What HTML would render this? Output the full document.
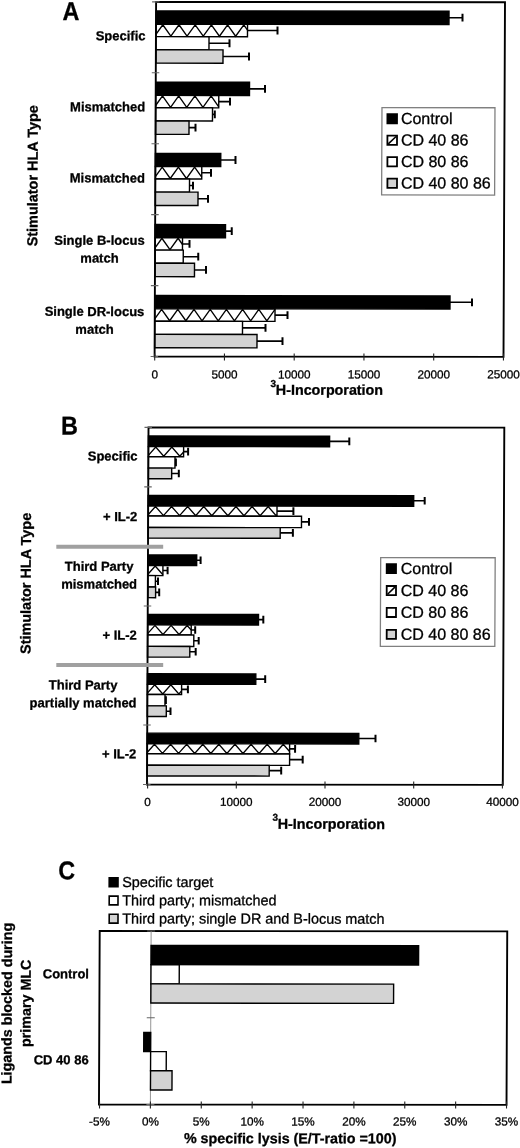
<!DOCTYPE html>
<html><head><meta charset="utf-8"><title>Figure</title>
<style>
html,body{margin:0;padding:0;background:#fff;width:520px;height:1148px;overflow:hidden}
svg{display:block;font-family:"Liberation Sans", sans-serif;filter:grayscale(1)}
text{stroke:#000;stroke-width:0.3px}
</style></head><body>
<svg width="520" height="1148" viewBox="0 0 520 1148">
<g transform="matrix(1 0.0012 -0.0042 1 0 0)" fill="#000">
<rect x="156.1" y="10.74" width="292.97" height="13.2" fill="#000" stroke="#000" stroke-width="1.4"/>
<line x1="449.07" y1="17.16" x2="462.57" y2="17.14" stroke="#000" stroke-width="1.6"/>
<line x1="462.56" y1="13.24" x2="462.59" y2="21.04" stroke="#000" stroke-width="2.0"/>
<rect x="156.1" y="24.06" width="91.53" height="12.4" fill="#fff" stroke="#000" stroke-width="1.4"/>
<polyline fill="none" stroke="#000" stroke-width="1.35" stroke-linejoin="miter" points="156.1,34.13 162.9,24.56 171,35.96 179.1,24.56 187.2,35.96 195.3,24.56 203.4,35.96 211.5,24.56 219.6,35.96 227.7,24.56 235.8,35.96 243.9,24.56 247.63,29.8"/>
<line x1="247.63" y1="30.2" x2="277.63" y2="30.17" stroke="#000" stroke-width="1.6"/>
<line x1="277.61" y1="26.27" x2="277.64" y2="34.07" stroke="#000" stroke-width="2.0"/>
<rect x="156.1" y="36.48" width="53.08" height="13.1" fill="#fff" stroke="#000" stroke-width="1.4"/>
<line x1="209.18" y1="43" x2="229.68" y2="42.97" stroke="#000" stroke-width="1.6"/>
<line x1="229.66" y1="39.07" x2="229.7" y2="46.87" stroke="#000" stroke-width="2.0"/>
<rect x="156.1" y="49.57" width="67.14" height="13.4" fill="#d3d3d3" stroke="#000" stroke-width="1.4"/>
<line x1="223.24" y1="56.23" x2="249.24" y2="56.2" stroke="#000" stroke-width="1.6"/>
<line x1="249.22" y1="52.3" x2="249.25" y2="60.1" stroke="#000" stroke-width="2.0"/>
<rect x="156.1" y="82.01" width="93.77" height="13.2" fill="#000" stroke="#000" stroke-width="1.4"/>
<line x1="249.87" y1="88.55" x2="265.37" y2="88.53" stroke="#000" stroke-width="1.6"/>
<line x1="265.36" y1="84.63" x2="265.39" y2="92.43" stroke="#000" stroke-width="2.0"/>
<rect x="156.1" y="95.22" width="63.08" height="12.4" fill="#fff" stroke="#000" stroke-width="1.4"/>
<polyline fill="none" stroke="#000" stroke-width="1.35" stroke-linejoin="miter" points="156.1,105.3 162.9,95.72 171,107.12 179.1,95.72 187.2,107.12 195.3,95.72 203.4,107.12 211.5,95.72 219.18,106.53"/>
<line x1="219.18" y1="101.39" x2="230.43" y2="101.37" stroke="#000" stroke-width="1.6"/>
<line x1="230.41" y1="97.47" x2="230.44" y2="105.27" stroke="#000" stroke-width="2.0"/>
<rect x="156.1" y="107.63" width="56.88" height="13.1" fill="#fff" stroke="#000" stroke-width="1.4"/>
<line x1="212.98" y1="114.14" x2="215.28" y2="114.14" stroke="#000" stroke-width="1.6"/>
<line x1="215.26" y1="110.24" x2="215.3" y2="118.04" stroke="#000" stroke-width="2.0"/>
<rect x="156.1" y="120.74" width="33.44" height="13.4" fill="#d3d3d3" stroke="#000" stroke-width="1.4"/>
<line x1="189.54" y1="127.42" x2="196.04" y2="127.41" stroke="#000" stroke-width="1.6"/>
<line x1="196.02" y1="123.51" x2="196.05" y2="131.31" stroke="#000" stroke-width="2.0"/>
<rect x="156.1" y="153.17" width="65.32" height="13.2" fill="#000" stroke="#000" stroke-width="1.4"/>
<line x1="221.42" y1="159.73" x2="236.17" y2="159.72" stroke="#000" stroke-width="1.6"/>
<line x1="236.15" y1="155.82" x2="236.19" y2="163.62" stroke="#000" stroke-width="2.0"/>
<rect x="156.1" y="166.38" width="46.38" height="12.4" fill="#fff" stroke="#000" stroke-width="1.4"/>
<polyline fill="none" stroke="#000" stroke-width="1.35" stroke-linejoin="miter" points="156.1,176.46 162.9,166.88 171,178.28 179.1,166.88 187.2,178.28 195.3,166.88 202.47,176.98"/>
<line x1="202.47" y1="172.56" x2="211.72" y2="172.55" stroke="#000" stroke-width="1.6"/>
<line x1="211.71" y1="168.65" x2="211.74" y2="176.45" stroke="#000" stroke-width="2.0"/>
<rect x="156.1" y="178.79" width="34.18" height="13.1" fill="#fff" stroke="#000" stroke-width="1.4"/>
<line x1="190.28" y1="185.32" x2="193.78" y2="185.32" stroke="#000" stroke-width="1.6"/>
<line x1="193.76" y1="181.42" x2="193.79" y2="189.22" stroke="#000" stroke-width="2.0"/>
<rect x="156.1" y="191.89" width="42.73" height="13.4" fill="#d3d3d3" stroke="#000" stroke-width="1.4"/>
<line x1="198.83" y1="198.56" x2="208.83" y2="198.55" stroke="#000" stroke-width="1.6"/>
<line x1="208.82" y1="194.65" x2="208.85" y2="202.45" stroke="#000" stroke-width="2.0"/>
<rect x="156.1" y="224.32" width="70.37" height="13.2" fill="#000" stroke="#000" stroke-width="1.4"/>
<line x1="226.47" y1="230.88" x2="232.72" y2="230.87" stroke="#000" stroke-width="1.6"/>
<line x1="232.7" y1="226.97" x2="232.74" y2="234.77" stroke="#000" stroke-width="2.0"/>
<rect x="156.1" y="237.55" width="27.42" height="12.4" fill="#fff" stroke="#000" stroke-width="1.4"/>
<polyline fill="none" stroke="#000" stroke-width="1.35" stroke-linejoin="miter" points="156.1,247.62 162.9,238.05 171,249.45 179.1,238.05 183.52,244.27"/>
<line x1="183.52" y1="243.73" x2="190.52" y2="243.72" stroke="#000" stroke-width="1.6"/>
<line x1="190.51" y1="239.82" x2="190.54" y2="247.62" stroke="#000" stroke-width="2.0"/>
<rect x="156.1" y="249.95" width="28.23" height="13.1" fill="#fff" stroke="#000" stroke-width="1.4"/>
<line x1="184.33" y1="256.48" x2="199.33" y2="256.46" stroke="#000" stroke-width="1.6"/>
<line x1="199.31" y1="252.56" x2="199.34" y2="260.36" stroke="#000" stroke-width="2.0"/>
<rect x="156.1" y="263.04" width="39.53" height="13.4" fill="#d3d3d3" stroke="#000" stroke-width="1.4"/>
<line x1="195.63" y1="269.72" x2="207.13" y2="269.7" stroke="#000" stroke-width="1.6"/>
<line x1="207.12" y1="265.8" x2="207.15" y2="273.6" stroke="#000" stroke-width="2.0"/>
<rect x="156.1" y="295.34" width="295.17" height="13.2" fill="#000" stroke="#000" stroke-width="1.4"/>
<line x1="451.27" y1="301.76" x2="473.27" y2="301.73" stroke="#000" stroke-width="1.6"/>
<line x1="473.25" y1="297.83" x2="473.28" y2="305.63" stroke="#000" stroke-width="2.0"/>
<rect x="156.1" y="308.64" width="120.22" height="12.4" fill="#fff" stroke="#000" stroke-width="1.4"/>
<polyline fill="none" stroke="#000" stroke-width="1.35" stroke-linejoin="miter" points="156.1,318.71 162.9,309.14 171,320.54 179.1,309.14 187.2,320.54 195.3,309.14 203.4,320.54 211.5,309.14 219.6,320.54 227.7,309.14 235.8,320.54 243.9,309.14 252,320.54 260.1,309.14 268.2,320.54 276.3,309.14 276.32,309.17"/>
<line x1="276.32" y1="314.77" x2="288.82" y2="314.75" stroke="#000" stroke-width="1.6"/>
<line x1="288.81" y1="310.85" x2="288.84" y2="318.65" stroke="#000" stroke-width="2.0"/>
<rect x="156.1" y="321.06" width="87.78" height="13.1" fill="#fff" stroke="#000" stroke-width="1.4"/>
<line x1="243.88" y1="327.56" x2="266.88" y2="327.53" stroke="#000" stroke-width="1.6"/>
<line x1="266.86" y1="323.63" x2="266.89" y2="331.43" stroke="#000" stroke-width="2.0"/>
<rect x="156.1" y="334.15" width="102.33" height="13.4" fill="#d3d3d3" stroke="#000" stroke-width="1.4"/>
<line x1="258.43" y1="340.79" x2="283.93" y2="340.76" stroke="#000" stroke-width="1.6"/>
<line x1="283.91" y1="336.86" x2="283.95" y2="344.66" stroke="#000" stroke-width="2.0"/>
<polygon fill="none" stroke="#000" stroke-width="1.9" points="156.1,1.71 505,1.69 505,356.29 156.1,356.31"/>
<line x1="152.1" y1="1.72" x2="159.6" y2="1.71" stroke="#666" stroke-width="1.1"/>
<line x1="152.1" y1="72.64" x2="159.6" y2="72.63" stroke="#666" stroke-width="1.1"/>
<line x1="152.1" y1="143.56" x2="159.6" y2="143.55" stroke="#666" stroke-width="1.1"/>
<line x1="152.1" y1="214.48" x2="159.6" y2="214.47" stroke="#666" stroke-width="1.1"/>
<line x1="152.1" y1="285.4" x2="159.6" y2="285.39" stroke="#666" stroke-width="1.1"/>
<line x1="152.1" y1="356.32" x2="159.6" y2="356.31" stroke="#666" stroke-width="1.1"/>
<line x1="156.18" y1="353.31" x2="156.21" y2="360.31" stroke="#222" stroke-width="1.1"/>
<text x="156.29" y="378.21" font-size="11.7" font-weight="normal" text-anchor="middle">0</text>
<line x1="225.93" y1="353.23" x2="225.96" y2="360.23" stroke="#222" stroke-width="1.1"/>
<text x="226.04" y="378.13" font-size="11.7" font-weight="normal" text-anchor="middle">5000</text>
<line x1="295.68" y1="353.15" x2="295.71" y2="360.15" stroke="#222" stroke-width="1.1"/>
<text x="295.79" y="378.05" font-size="11.7" font-weight="normal" text-anchor="middle">10000</text>
<line x1="365.43" y1="353.06" x2="365.46" y2="360.06" stroke="#222" stroke-width="1.1"/>
<text x="365.54" y="377.96" font-size="11.7" font-weight="normal" text-anchor="middle">15000</text>
<line x1="435.18" y1="352.98" x2="435.21" y2="359.98" stroke="#222" stroke-width="1.1"/>
<text x="435.29" y="377.88" font-size="11.7" font-weight="normal" text-anchor="middle">20000</text>
<line x1="504.93" y1="352.89" x2="504.96" y2="359.89" stroke="#222" stroke-width="1.1"/>
<text x="505.04" y="377.79" font-size="11.7" font-weight="normal" text-anchor="middle">25000</text>
<rect x="382.43" y="107.17" width="113" height="87.3" fill="#fff" stroke="#808080" stroke-width="1.3"/>
<rect x="387.9" y="113.63" width="9.6" height="9.2" fill="#000" stroke="#000" stroke-width="1.8"/>
<text x="401.42" y="123.52" font-size="16" font-weight="normal" text-anchor="start">Control</text>
<rect x="387.99" y="135.13" width="9.6" height="9.2" fill="#fff" stroke="#000" stroke-width="1.8"/>
<line x1="388.9" y1="143.43" x2="396.67" y2="136.02" stroke="#000" stroke-width="1.6"/>
<text x="401.51" y="145.02" font-size="16" font-weight="normal" text-anchor="start">CD 40 86</text>
<rect x="388.08" y="156.63" width="9.6" height="9.2" fill="#fff" stroke="#000" stroke-width="1.8"/>
<text x="401.6" y="166.52" font-size="16" font-weight="normal" text-anchor="start">CD 80 86</text>
<rect x="388.17" y="178.13" width="9.6" height="9.2" fill="#d3d3d3" stroke="#000" stroke-width="1.8"/>
<text x="401.69" y="188.02" font-size="16" font-weight="normal" text-anchor="start">CD 40 80 86</text>
<text transform="translate(62.58 19.92) scale(0.91 1)" font-size="25.7" font-weight="bold" text-anchor="start">A</text>
<text x="120.77" y="40.16" font-size="13" font-weight="bold" text-anchor="middle">Specific</text>
<text x="108.13" y="111.07" font-size="13" font-weight="bold" text-anchor="middle">Mismatched</text>
<text x="108.13" y="182.27" font-size="13" font-weight="bold" text-anchor="middle">Mismatched</text>
<text x="100.52" y="244.68" font-size="13" font-weight="bold" text-anchor="middle">Single B-locus</text>
<text x="100.59" y="262.48" font-size="13" font-weight="bold" text-anchor="middle">match</text>
<text x="95.82" y="315.79" font-size="13" font-weight="bold" text-anchor="middle">Single DR-locus</text>
<text x="95.9" y="333.58" font-size="13" font-weight="bold" text-anchor="middle">match</text>
<text transform="translate(38.34 175.7) rotate(-90)" font-size="14.45" font-weight="bold" text-anchor="middle">Stimulator HLA Type</text>
<text x="272.12" y="386.57" font-size="10" font-weight="bold" text-anchor="start">3</text>
<text x="277.51" y="394.37" font-size="14.3" font-weight="bold" text-anchor="start">H-Incorporation</text>
<rect x="150.3" y="435.81" width="181.15" height="10.5" fill="#000" stroke="#000" stroke-width="1.4"/>
<line x1="331.45" y1="440.95" x2="351.15" y2="440.93" stroke="#000" stroke-width="1.6"/>
<line x1="351.14" y1="437.13" x2="351.17" y2="444.73" stroke="#000" stroke-width="2.0"/>
<rect x="150.3" y="446.4" width="35.2" height="10.1" fill="#fff" stroke="#000" stroke-width="1.4"/>
<polyline fill="none" stroke="#000" stroke-width="1.35" stroke-linejoin="miter" points="150.3,455.15 157.6,446.9 165.65,456 173.7,446.9 181.75,456 185.5,451.76"/>
<line x1="185.5" y1="451.43" x2="190" y2="451.42" stroke="#000" stroke-width="1.6"/>
<line x1="189.98" y1="447.62" x2="190.01" y2="455.22" stroke="#000" stroke-width="2.0"/>
<rect x="150.3" y="456.5" width="26.64" height="11.4" fill="#fff" stroke="#000" stroke-width="1.4"/>
<line x1="176.94" y1="462.19" x2="177.84" y2="462.19" stroke="#000" stroke-width="1.6"/>
<line x1="177.83" y1="458.39" x2="177.86" y2="465.99" stroke="#000" stroke-width="2.0"/>
<rect x="150.3" y="467.91" width="23.39" height="10.7" fill="#d3d3d3" stroke="#000" stroke-width="1.4"/>
<line x1="173.69" y1="473.24" x2="180.79" y2="473.23" stroke="#000" stroke-width="1.6"/>
<line x1="180.77" y1="469.43" x2="180.8" y2="477.03" stroke="#000" stroke-width="2.0"/>
<rect x="150.3" y="495.2" width="265.5" height="10.5" fill="#000" stroke="#000" stroke-width="1.4"/>
<line x1="415.8" y1="500.29" x2="426.8" y2="500.28" stroke="#000" stroke-width="1.6"/>
<line x1="426.79" y1="496.48" x2="426.82" y2="504.08" stroke="#000" stroke-width="2.0"/>
<rect x="150.3" y="505.78" width="128.85" height="10.1" fill="#fff" stroke="#000" stroke-width="1.4"/>
<polyline fill="none" stroke="#000" stroke-width="1.35" stroke-linejoin="miter" points="150.3,514.54 157.6,506.28 165.65,515.38 173.7,506.28 181.75,515.38 189.8,506.28 197.85,515.38 205.9,506.28 213.95,515.38 222,506.28 230.05,515.38 238.1,506.28 246.15,515.38 254.2,506.28 262.25,515.38 270.3,506.28 278.35,515.38 279.15,514.48"/>
<line x1="279.15" y1="510.76" x2="295.55" y2="510.74" stroke="#000" stroke-width="1.6"/>
<line x1="295.53" y1="506.94" x2="295.56" y2="514.54" stroke="#000" stroke-width="2.0"/>
<rect x="150.3" y="515.87" width="153.39" height="11.4" fill="#fff" stroke="#000" stroke-width="1.4"/>
<line x1="303.69" y1="521.48" x2="311.19" y2="521.47" stroke="#000" stroke-width="1.6"/>
<line x1="311.17" y1="517.67" x2="311.21" y2="525.27" stroke="#000" stroke-width="2.0"/>
<rect x="150.3" y="527.28" width="132.14" height="10.7" fill="#d3d3d3" stroke="#000" stroke-width="1.4"/>
<line x1="282.44" y1="532.55" x2="295.14" y2="532.54" stroke="#000" stroke-width="1.6"/>
<line x1="295.12" y1="528.74" x2="295.15" y2="536.34" stroke="#000" stroke-width="2.0"/>
<rect x="150.3" y="554.77" width="48.75" height="10.5" fill="#000" stroke="#000" stroke-width="1.4"/>
<line x1="199.05" y1="559.99" x2="202.95" y2="559.99" stroke="#000" stroke-width="1.6"/>
<line x1="202.94" y1="556.19" x2="202.97" y2="563.79" stroke="#000" stroke-width="2.0"/>
<rect x="150.3" y="565.29" width="15" height="10.1" fill="#fff" stroke="#000" stroke-width="1.4"/>
<polyline fill="none" stroke="#000" stroke-width="1.35" stroke-linejoin="miter" points="150.3,574.04 157.6,565.79 165.3,574.49"/>
<line x1="165.3" y1="570.33" x2="170" y2="570.33" stroke="#000" stroke-width="1.6"/>
<line x1="169.98" y1="566.53" x2="170.01" y2="574.13" stroke="#000" stroke-width="2.0"/>
<rect x="150.3" y="575.4" width="7.54" height="11.4" fill="#fff" stroke="#000" stroke-width="1.4"/>
<line x1="157.84" y1="581.09" x2="160.44" y2="581.09" stroke="#000" stroke-width="1.6"/>
<line x1="160.42" y1="577.29" x2="160.46" y2="584.89" stroke="#000" stroke-width="2.0"/>
<rect x="150.3" y="586.79" width="7.79" height="10.7" fill="#d3d3d3" stroke="#000" stroke-width="1.4"/>
<line x1="158.09" y1="592.14" x2="161.69" y2="592.14" stroke="#000" stroke-width="1.6"/>
<line x1="161.67" y1="588.34" x2="161.7" y2="595.94" stroke="#000" stroke-width="2.0"/>
<rect x="150.3" y="614.17" width="110.8" height="10.5" fill="#000" stroke="#000" stroke-width="1.4"/>
<line x1="261.1" y1="619.36" x2="265.9" y2="619.35" stroke="#000" stroke-width="1.6"/>
<line x1="265.89" y1="615.55" x2="265.92" y2="623.15" stroke="#000" stroke-width="2.0"/>
<rect x="150.3" y="624.71" width="43.55" height="10.1" fill="#fff" stroke="#000" stroke-width="1.4"/>
<polyline fill="none" stroke="#000" stroke-width="1.35" stroke-linejoin="miter" points="150.3,633.47 157.6,625.21 165.65,634.31 173.7,625.21 181.75,634.31 189.8,625.21 193.84,629.79"/>
<line x1="193.84" y1="629.74" x2="197.84" y2="629.73" stroke="#000" stroke-width="1.6"/>
<line x1="197.83" y1="625.93" x2="197.86" y2="633.53" stroke="#000" stroke-width="2.0"/>
<rect x="150.3" y="634.81" width="46.19" height="11.4" fill="#fff" stroke="#000" stroke-width="1.4"/>
<line x1="196.49" y1="640.48" x2="201.39" y2="640.48" stroke="#000" stroke-width="1.6"/>
<line x1="201.37" y1="636.68" x2="201.41" y2="644.28" stroke="#000" stroke-width="2.0"/>
<rect x="150.3" y="646.21" width="42.24" height="10.7" fill="#d3d3d3" stroke="#000" stroke-width="1.4"/>
<line x1="192.54" y1="651.54" x2="198.44" y2="651.53" stroke="#000" stroke-width="1.6"/>
<line x1="198.42" y1="647.73" x2="198.45" y2="655.33" stroke="#000" stroke-width="2.0"/>
<rect x="150.3" y="673.61" width="108.35" height="10.5" fill="#000" stroke="#000" stroke-width="1.4"/>
<line x1="258.65" y1="678.8" x2="268.05" y2="678.79" stroke="#000" stroke-width="1.6"/>
<line x1="268.03" y1="674.99" x2="268.07" y2="682.59" stroke="#000" stroke-width="2.0"/>
<rect x="150.3" y="684.16" width="34.2" height="10.1" fill="#fff" stroke="#000" stroke-width="1.4"/>
<polyline fill="none" stroke="#000" stroke-width="1.35" stroke-linejoin="miter" points="150.3,692.91 157.6,684.66 165.65,693.76 173.7,684.66 181.75,693.76 184.49,690.66"/>
<line x1="184.49" y1="689.19" x2="190.79" y2="689.18" stroke="#000" stroke-width="1.6"/>
<line x1="190.78" y1="685.38" x2="190.81" y2="692.98" stroke="#000" stroke-width="2.0"/>
<rect x="150.3" y="694.27" width="17.64" height="11.4" fill="#fff" stroke="#000" stroke-width="1.4"/>
<line x1="167.94" y1="699.96" x2="168.84" y2="699.96" stroke="#000" stroke-width="1.6"/>
<line x1="168.82" y1="696.16" x2="168.86" y2="703.76" stroke="#000" stroke-width="2.0"/>
<rect x="150.3" y="705.67" width="18.99" height="10.7" fill="#d3d3d3" stroke="#000" stroke-width="1.4"/>
<line x1="169.29" y1="711.01" x2="173.49" y2="711" stroke="#000" stroke-width="1.6"/>
<line x1="173.47" y1="707.2" x2="173.5" y2="714.8" stroke="#000" stroke-width="2.0"/>
<rect x="150.3" y="732.99" width="211.6" height="10.5" fill="#000" stroke="#000" stroke-width="1.4"/>
<line x1="361.9" y1="738.12" x2="378.6" y2="738.1" stroke="#000" stroke-width="1.6"/>
<line x1="378.58" y1="734.3" x2="378.62" y2="741.9" stroke="#000" stroke-width="2.0"/>
<rect x="150.3" y="743.53" width="142.44" height="10.1" fill="#fff" stroke="#000" stroke-width="1.4"/>
<polyline fill="none" stroke="#000" stroke-width="1.35" stroke-linejoin="miter" points="150.3,752.29 157.6,744.03 165.65,753.13 173.7,744.03 181.75,753.13 189.8,744.03 197.85,753.13 205.9,744.03 213.95,753.13 222,744.03 230.05,753.13 238.1,744.03 246.15,753.13 254.2,744.03 262.25,753.13 270.3,744.03 278.35,753.13 286.4,744.03 292.74,751.21"/>
<line x1="292.74" y1="748.5" x2="298.24" y2="748.49" stroke="#000" stroke-width="1.6"/>
<line x1="298.23" y1="744.69" x2="298.26" y2="752.29" stroke="#000" stroke-width="2.0"/>
<rect x="150.3" y="753.63" width="142.49" height="11.4" fill="#fff" stroke="#000" stroke-width="1.4"/>
<line x1="292.79" y1="759.25" x2="305.89" y2="759.23" stroke="#000" stroke-width="1.6"/>
<line x1="305.87" y1="755.43" x2="305.9" y2="763.03" stroke="#000" stroke-width="2.0"/>
<rect x="150.3" y="765.05" width="122.14" height="10.7" fill="#d3d3d3" stroke="#000" stroke-width="1.4"/>
<line x1="272.44" y1="770.32" x2="284.44" y2="770.31" stroke="#000" stroke-width="1.6"/>
<line x1="284.42" y1="766.51" x2="284.45" y2="774.11" stroke="#000" stroke-width="2.0"/>
<polygon fill="none" stroke="#000" stroke-width="1.9" points="150.3,427.22 506.1,426.99 506.1,784.29 150.3,784.32"/>
<line x1="146.3" y1="427.22" x2="153.8" y2="427.22" stroke="#666" stroke-width="1.1"/>
<line x1="146.3" y1="486.74" x2="153.8" y2="486.73" stroke="#666" stroke-width="1.1"/>
<line x1="146.3" y1="546.26" x2="153.8" y2="546.25" stroke="#666" stroke-width="1.1"/>
<line x1="146.3" y1="605.77" x2="153.8" y2="605.77" stroke="#666" stroke-width="1.1"/>
<line x1="146.3" y1="665.29" x2="153.8" y2="665.28" stroke="#666" stroke-width="1.1"/>
<line x1="146.3" y1="724.81" x2="153.8" y2="724.8" stroke="#666" stroke-width="1.1"/>
<line x1="146.3" y1="784.32" x2="153.8" y2="784.32" stroke="#666" stroke-width="1.1"/>
<line x1="150.88" y1="781.32" x2="150.91" y2="788.32" stroke="#222" stroke-width="1.1"/>
<text x="150.98" y="805.72" font-size="11.7" font-weight="normal" text-anchor="middle">0</text>
<line x1="239.58" y1="781.21" x2="239.61" y2="788.21" stroke="#222" stroke-width="1.1"/>
<text x="239.68" y="805.61" font-size="11.7" font-weight="normal" text-anchor="middle">10000</text>
<line x1="328.28" y1="781.11" x2="328.31" y2="788.11" stroke="#222" stroke-width="1.1"/>
<text x="328.38" y="805.51" font-size="11.7" font-weight="normal" text-anchor="middle">20000</text>
<line x1="416.98" y1="781" x2="417.01" y2="788" stroke="#222" stroke-width="1.1"/>
<text x="417.08" y="805.4" font-size="11.7" font-weight="normal" text-anchor="middle">30000</text>
<line x1="505.68" y1="780.89" x2="505.71" y2="787.89" stroke="#222" stroke-width="1.1"/>
<text x="505.78" y="805.29" font-size="11.7" font-weight="normal" text-anchor="middle">40000</text>
<rect x="58.6" y="544.57" width="106.9" height="4" fill="#a0a0a0" stroke="none" stroke-width="0"/>
<rect x="59.09" y="662.86" width="106.9" height="4" fill="#a0a0a0" stroke="none" stroke-width="0"/>
<rect x="383.03" y="557.17" width="114.5" height="88.7" fill="#fff" stroke="#808080" stroke-width="1.3"/>
<rect x="389.09" y="563.63" width="9.3" height="9.1" fill="#000" stroke="#000" stroke-width="1.8"/>
<text x="403.11" y="573.52" font-size="16" font-weight="normal" text-anchor="start">Control</text>
<rect x="389.18" y="585.53" width="9.3" height="9.1" fill="#fff" stroke="#000" stroke-width="1.8"/>
<line x1="390.09" y1="593.73" x2="397.56" y2="586.42" stroke="#000" stroke-width="1.6"/>
<text x="403.2" y="595.42" font-size="16" font-weight="normal" text-anchor="start">CD 40 86</text>
<rect x="389.27" y="607.43" width="9.3" height="9.1" fill="#fff" stroke="#000" stroke-width="1.8"/>
<text x="403.29" y="617.32" font-size="16" font-weight="normal" text-anchor="start">CD 80 86</text>
<rect x="389.36" y="629.33" width="9.3" height="9.1" fill="#d3d3d3" stroke="#000" stroke-width="1.8"/>
<text x="403.38" y="639.22" font-size="16" font-weight="normal" text-anchor="start">CD 40 80 86</text>
<text transform="translate(62.93 434.52) scale(0.91 1)" font-size="25.7" font-weight="bold" text-anchor="start">B</text>
<text x="114.57" y="460.46" font-size="13" font-weight="bold" text-anchor="middle">Specific</text>
<text x="122.34" y="520.95" font-size="13" font-weight="bold" text-anchor="middle">+ IL-2</text>
<text x="101.53" y="570.58" font-size="13" font-weight="bold" text-anchor="middle">Third Party</text>
<text x="101.61" y="588.38" font-size="13" font-weight="bold" text-anchor="middle">mismatched</text>
<text x="122.34" y="639.45" font-size="13" font-weight="bold" text-anchor="middle">+ IL-2</text>
<text x="86" y="689.3" font-size="13" font-weight="bold" text-anchor="middle">Third Party</text>
<text x="86.07" y="707.1" font-size="13" font-weight="bold" text-anchor="middle">partially matched</text>
<text x="122.34" y="758.05" font-size="13" font-weight="bold" text-anchor="middle">+ IL-2</text>
<text transform="translate(33.25 583.36) rotate(-90)" font-size="14.45" font-weight="bold" text-anchor="middle">Stimulator HLA Type</text>
<text x="275.85" y="820.47" font-size="10" font-weight="bold" text-anchor="start">3</text>
<text x="281.24" y="828.46" font-size="14.3" font-weight="bold" text-anchor="start">H-Incorporation</text>
<polygon fill="none" stroke="#000" stroke-width="1.9" points="103.61,930.88 511.15,930.79 511.15,1104.29 103.61,1104.38"/>
<line x1="155.04" y1="930.81" x2="155.04" y2="1104.31" stroke="#888" stroke-width="0.9"/>
<rect x="155.04" y="945.25" width="267.57" height="19.2" fill="#000" stroke="#000" stroke-width="1.4"/>
<rect x="155.04" y="964.6" width="28.3" height="19.2" fill="#fff" stroke="#000" stroke-width="1.4"/>
<rect x="155.04" y="983.67" width="242.73" height="19.2" fill="#d3d3d3" stroke="#000" stroke-width="1.4"/>
<rect x="148.13" y="1032.22" width="6.91" height="19.2" fill="#000" stroke="#000" stroke-width="1.4"/>
<rect x="155.04" y="1051.4" width="15.67" height="19.2" fill="#fff" stroke="#000" stroke-width="1.4"/>
<rect x="155.04" y="1070.6" width="21.5" height="19.2" fill="#d3d3d3" stroke="#000" stroke-width="1.4"/>
<line x1="151.04" y1="930.82" x2="159.04" y2="930.81" stroke="#666" stroke-width="1.0"/>
<line x1="151.04" y1="1017.57" x2="159.04" y2="1017.56" stroke="#666" stroke-width="1.0"/>
<line x1="151.04" y1="1104.32" x2="159.04" y2="1104.31" stroke="#666" stroke-width="1.0"/>
<line x1="104.15" y1="1101.38" x2="104.18" y2="1108.37" stroke="#222" stroke-width="1.1"/>
<text x="104.25" y="1125.37" font-size="11.7" font-weight="normal" text-anchor="middle">-5%</text>
<line x1="155.03" y1="1101.31" x2="155.05" y2="1108.31" stroke="#222" stroke-width="1.1"/>
<text x="155.13" y="1125.31" font-size="11.7" font-weight="normal" text-anchor="middle">0%</text>
<line x1="205.9" y1="1101.25" x2="205.93" y2="1108.25" stroke="#222" stroke-width="1.1"/>
<text x="206" y="1125.25" font-size="11.7" font-weight="normal" text-anchor="middle">5%</text>
<line x1="256.78" y1="1101.19" x2="256.8" y2="1108.19" stroke="#222" stroke-width="1.1"/>
<text x="256.88" y="1125.19" font-size="11.7" font-weight="normal" text-anchor="middle">10%</text>
<line x1="307.65" y1="1101.13" x2="307.68" y2="1108.13" stroke="#222" stroke-width="1.1"/>
<text x="307.75" y="1125.13" font-size="11.7" font-weight="normal" text-anchor="middle">15%</text>
<line x1="358.52" y1="1101.07" x2="358.55" y2="1108.07" stroke="#222" stroke-width="1.1"/>
<text x="358.63" y="1125.07" font-size="11.7" font-weight="normal" text-anchor="middle">20%</text>
<line x1="409.4" y1="1101.01" x2="409.43" y2="1108.01" stroke="#222" stroke-width="1.1"/>
<text x="409.5" y="1125.01" font-size="11.7" font-weight="normal" text-anchor="middle">25%</text>
<line x1="460.27" y1="1100.95" x2="460.3" y2="1107.95" stroke="#222" stroke-width="1.1"/>
<text x="460.37" y="1124.95" font-size="11.7" font-weight="normal" text-anchor="middle">30%</text>
<line x1="511.15" y1="1100.89" x2="511.18" y2="1107.89" stroke="#222" stroke-width="1.1"/>
<text x="511.25" y="1124.89" font-size="11.7" font-weight="normal" text-anchor="middle">35%</text>
<text transform="translate(61.89 879.28) scale(0.91 1)" font-size="25.7" font-weight="bold" text-anchor="start">C</text>
<rect x="112.91" y="877.76" width="8.8" height="8.8" fill="#000" stroke="#000" stroke-width="1.6"/>
<text x="125.92" y="886.85" font-size="14.4" font-weight="normal" text-anchor="start">Specific target</text>
<rect x="112.98" y="895.96" width="8.8" height="8.8" fill="#fff" stroke="#000" stroke-width="1.6"/>
<text x="126" y="905.05" font-size="14.4" font-weight="normal" text-anchor="start">Third party; mismatched</text>
<rect x="113.06" y="914.16" width="8.8" height="8.8" fill="#d3d3d3" stroke="#000" stroke-width="1.6"/>
<text x="126.08" y="923.25" font-size="14.4" font-weight="normal" text-anchor="start">Third party; single DR and B-locus match</text>
<text x="69.99" y="978.22" font-size="13" font-weight="bold" text-anchor="middle">Control</text>
<text x="65.64" y="1064.12" font-size="13" font-weight="bold" text-anchor="middle">CD 40 86</text>
<text transform="translate(16.01 1003.48) rotate(-90)" font-size="14.3" font-weight="bold" text-anchor="middle">Ligands blocked during</text>
<text transform="translate(34.91 1003.26) rotate(-90)" font-size="14.3" font-weight="bold" text-anchor="middle">primary MLC</text>
<text x="188.7" y="1142.87" font-size="14.3" font-weight="bold" text-anchor="start">% specific lysis (E/T-ratio =100)</text>
</g>
</svg>
</body></html>
